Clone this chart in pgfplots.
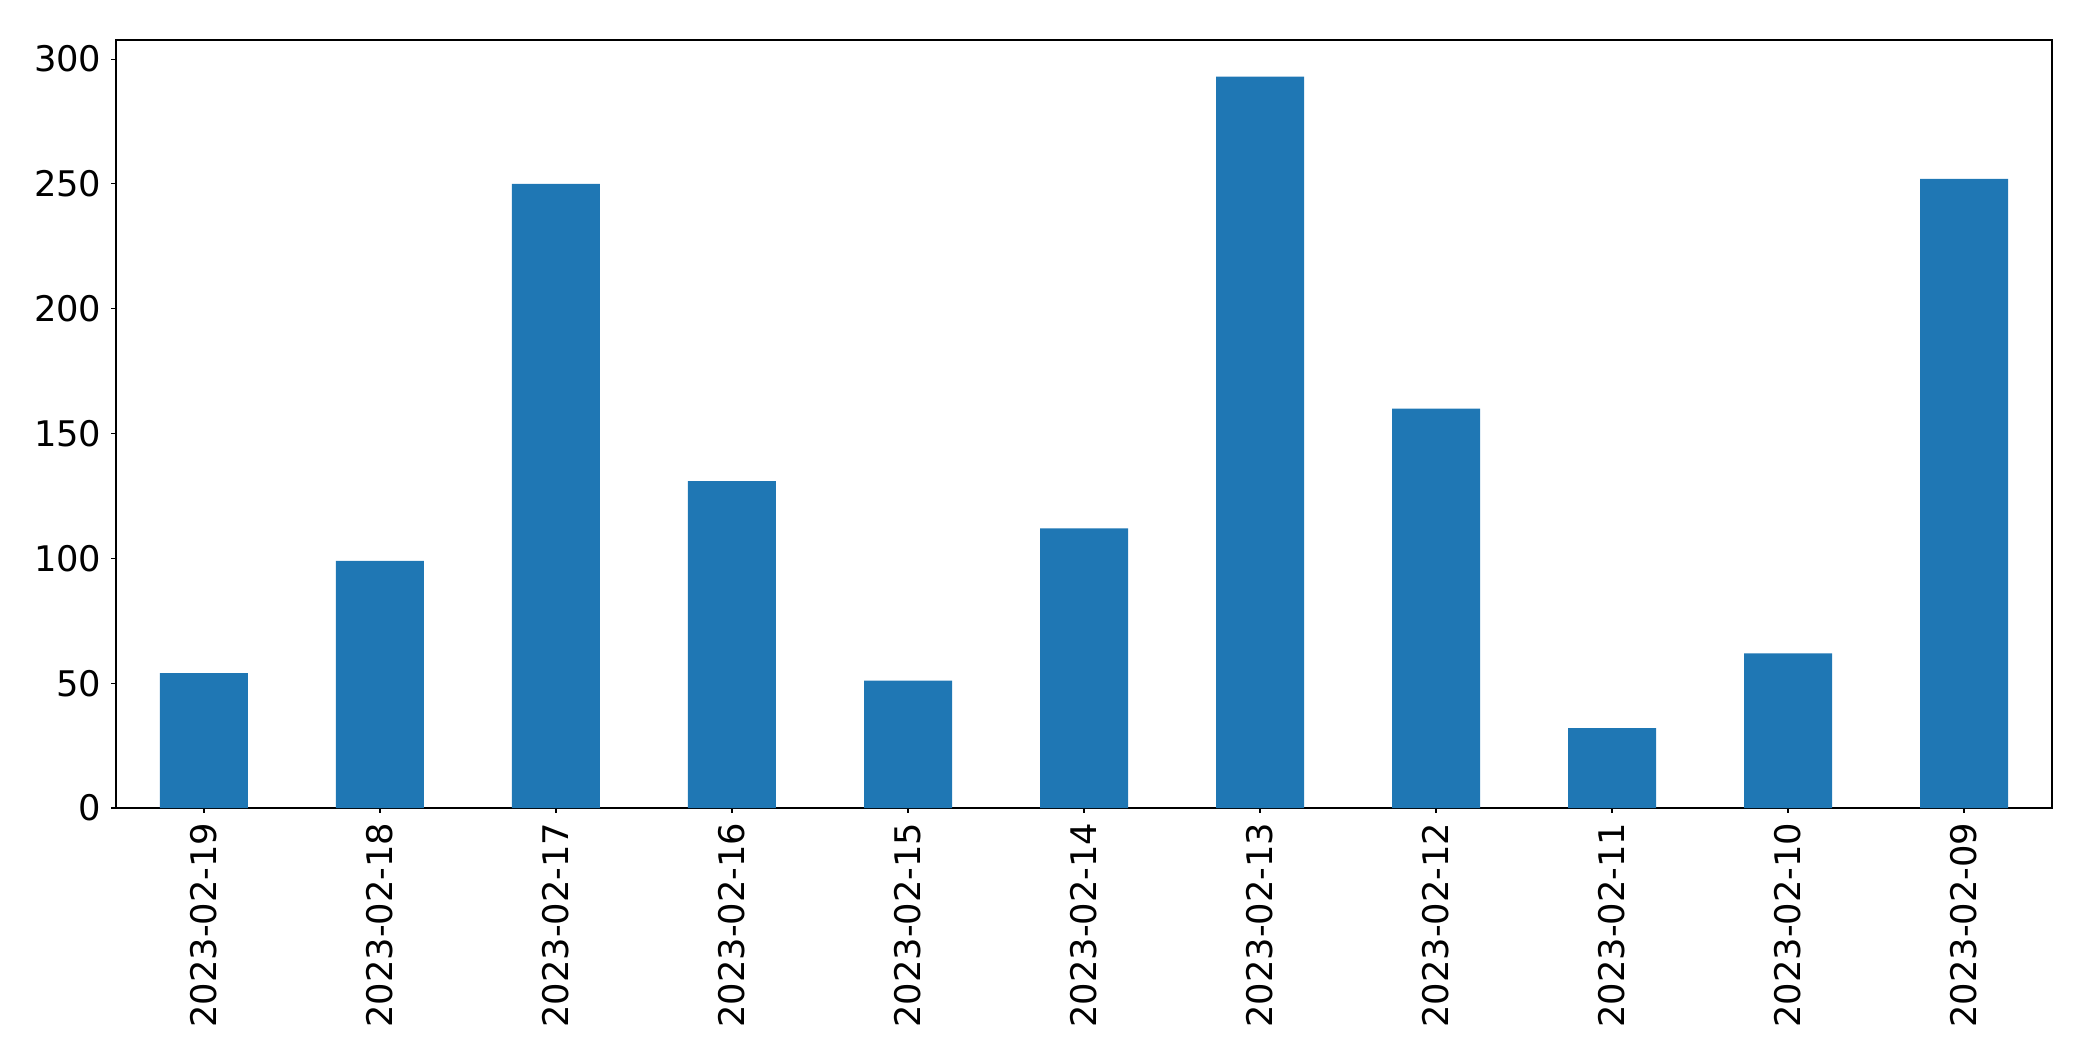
\documentclass[border=0pt]{standalone}
\usepackage{fontspec}
\setmainfont{DejaVu Sans}
\usepackage{pgfplots}
\pgfplotsset{compat=1.18}
\definecolor{mplblue}{HTML}{1F77B4}
\begin{document}
\begin{tikzpicture}
\begin{axis}[
  at={(0,0)}, anchor=south west,
  scale only axis,
  width=1394pt, height=553pt,
  xmin=-0.5, xmax=10.5,
  ymin=0, ymax=307.65,
  ybar, bar width=0.5, bar shift=0pt,
  xtick={0,1,2,3,4,5,6,7,8,9,10},
  xticklabels={2023-02-19,2023-02-18,2023-02-17,2023-02-16,2023-02-15,2023-02-14,2023-02-13,2023-02-12,2023-02-11,2023-02-10,2023-02-09},
  x tick label style={rotate=90, anchor=east, font=\fontsize{25.4}{30}\selectfont},
  ytick={0,50,100,150,200,250,300},
  y tick label style={font=\fontsize{25.4}{30}\selectfont},
  /pgf/number format/assume math mode=true,
  tick align=outside,
  major tick length=3.5pt,
  tick style={black, line width=0.8pt},
  axis line style={line width=0.8pt},
  xtick pos=bottom, ytick pos=left,
  xticklabel shift=3.5pt, yticklabel shift=3.5pt,
]
\addplot[fill=mplblue, draw=none] coordinates {
(0,54) (1,99) (2,250) (3,131) (4,51) (5,112) (6,293) (7,160) (8,32) (9,62) (10,252)
};
\end{axis}
\pgfresetboundingbox
\path[use as bounding box] (-83.5pt,-182pt) rectangle (1423.5pt,581.8pt);
\end{tikzpicture}
\end{document}
